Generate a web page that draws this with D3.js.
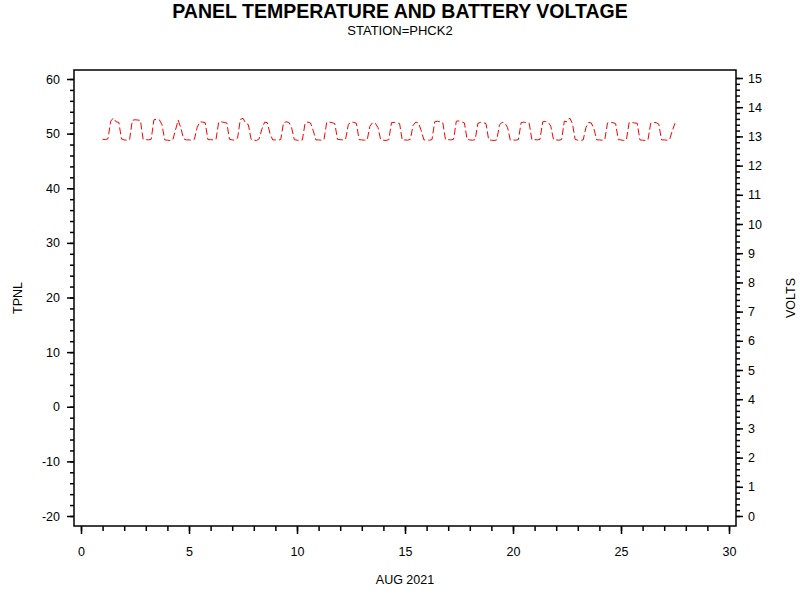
<!DOCTYPE html>
<html lang="en">
<head>
    <meta charset="UTF-8">
    <title>Panel Temperature and Battery Voltage</title>
    <script src="https://cdnjs.cloudflare.com/ajax/libs/d3/7.8.5/d3.min.js"></script>
    <style>
        body { margin: 0; background: #fff; }
        svg text { font-family: "Liberation Sans", Arial, sans-serif; fill: #000; }
    </style>
</head>
<body>
<svg width="800" height="600"></svg>
<script>
    // battery voltage, 3-hourly samples starting AUG 1 00:00
    const startDay = 1;
    const stepHours = 3;
    const volts = [
        12.90, 12.89, 12.92, 13.52, 13.63, 13.50, 13.48, 12.91,
        12.88, 12.87, 12.89, 13.55, 13.57, 13.56, 13.55, 12.90,
        12.89, 12.88, 12.90, 13.57, 13.58, 13.57, 13.40, 12.88,
        12.87, 12.86, 12.88, 13.22, 13.56, 13.28, 12.92, 12.88,
        12.88, 12.87, 12.90, 13.30, 13.50, 13.49, 13.47, 12.89,
        12.89, 12.88, 12.90, 13.49, 13.50, 13.48, 13.46, 12.90,
        12.88, 12.87, 12.94, 13.58, 13.62, 13.45, 13.40, 12.90,
        12.87, 12.86, 12.92, 13.25, 13.49, 13.47, 13.10, 12.88,
        12.88, 12.86, 12.90, 13.47, 13.50, 13.48, 13.30, 12.89,
        12.87, 12.86, 12.88, 13.46, 13.49, 13.46, 13.20, 12.88,
        12.88, 12.87, 12.89, 13.48, 13.49, 13.47, 13.44, 12.90,
        12.89, 12.88, 12.90, 13.40, 13.50, 13.48, 13.45, 12.89,
        12.88, 12.87, 12.88, 13.35, 13.47, 13.45, 13.30, 12.88,
        12.87, 12.86, 12.89, 13.47, 13.48, 13.46, 13.44, 12.87,
        12.88, 12.87, 12.90, 13.38, 13.49, 13.46, 13.20, 12.88,
        12.88, 12.87, 12.89, 13.50, 13.52, 13.50, 13.47, 12.89,
        12.89, 12.88, 12.90, 13.52, 13.53, 13.50, 13.46, 12.90,
        12.88, 12.87, 12.89, 13.45, 13.48, 13.47, 13.44, 12.88,
        12.87, 12.86, 12.88, 13.40, 13.48, 13.46, 13.30, 12.87,
        12.88, 12.87, 12.89, 13.47, 13.49, 13.47, 13.45, 12.88,
        12.89, 12.88, 12.90, 13.50, 13.51, 13.49, 13.35, 12.89,
        12.88, 12.87, 12.89, 13.52, 13.50, 13.63, 13.45, 12.90,
        12.87, 12.86, 12.88, 13.30, 13.48, 13.46, 13.25, 12.88,
        12.88, 12.87, 12.89, 13.46, 13.49, 13.47, 13.44, 12.89,
        12.88, 12.86, 12.88, 13.47, 13.48, 13.46, 13.45, 12.88,
        12.87, 12.86, 12.89, 13.45, 13.48, 13.47, 13.42, 12.88,
        12.88, 12.87, 12.89, 13.20, 13.45
    ];

    const dayTicks = [0, 5, 10, 15, 20, 25, 30];
    const tempTicks = [-20, -10, 0, 10, 20, 30, 40, 50, 60];
    const voltTicks = d3.range(0, 16);

    const svg = d3.select("svg");
    const plotLeft = 74, plotRight = 736, plotTop = 70, plotBottom = 526;

    const x = d3.scaleLinear().domain([0, 30]).range([81, 729]);
    const yTemp = d3.scaleLinear().domain([-20, 60]).range([516, 79]);
    const yVolt = d3.scaleLinear().domain([0, 15]).range([516, 78]);

    // plain hyphen for negatives, like the original
    const plain = d => String(d);

    // frame
    svg.append("rect")
        .attr("x", plotLeft).attr("y", plotTop)
        .attr("width", plotRight - plotLeft).attr("height", plotBottom - plotTop)
        .attr("fill", "none").attr("stroke", "#000").attr("stroke-width", 1.5);

    function styleAxis(g) {
        g.select(".domain").remove();
        g.selectAll("line").attr("stroke", "#000").attr("stroke-width", 1.5);
        g.selectAll("text").attr("font-size", 12.5).attr("font-family", "Liberation Sans, Arial, sans-serif");
    }

    // bottom axis
    svg.append("g").attr("transform", `translate(0,${plotBottom})`)
        .call(d3.axisBottom(x).tickValues(d3.range(0, 31)).tickSize(5).tickFormat(""))
        .call(styleAxis);
    svg.append("g").attr("transform", `translate(0,${plotBottom})`)
        .call(d3.axisBottom(x).tickValues(dayTicks).tickSize(8).tickPadding(13).tickFormat(plain))
        .call(styleAxis);

    // left axis
    svg.append("g").attr("transform", `translate(${plotLeft},0)`)
        .call(d3.axisLeft(yTemp).tickValues(d3.range(-20, 61, 2)).tickSize(4).tickFormat(""))
        .call(styleAxis);
    svg.append("g").attr("transform", `translate(${plotLeft},0)`)
        .call(d3.axisLeft(yTemp).tickValues(tempTicks).tickSize(7).tickPadding(7).tickFormat(plain))
        .call(styleAxis);

    // right axis
    svg.append("g").attr("transform", `translate(${plotRight},0)`)
        .call(d3.axisRight(yVolt).tickValues(d3.range(0, 76).map(i => i / 5)).tickSize(4).tickFormat(""))
        .call(styleAxis);
    svg.append("g").attr("transform", `translate(${plotRight},0)`)
        .call(d3.axisRight(yVolt).tickValues(voltTicks).tickSize(7).tickPadding(5).tickFormat(plain))
        .call(styleAxis);

    // voltage line
    const line = d3.line()
        .x((d, i) => x(startDay + i * stepHours / 24))
        .y(d => yVolt(d));

    svg.append("path")
        .datum(volts)
        .attr("d", line)
        .attr("fill", "none")
        .attr("stroke", "#ff0000")
        .attr("stroke-width", 1)
        .attr("stroke-dasharray", "7,3");

    // titles
    svg.append("text").attr("x", 400).attr("y", 18)
        .attr("text-anchor", "middle").attr("font-size", 19.5).attr("font-weight", "bold")
        .text("PANEL TEMPERATURE AND BATTERY VOLTAGE");
    svg.append("text").attr("x", 400).attr("y", 35)
        .attr("text-anchor", "middle").attr("font-size", 13)
        .text("STATION=PHCK2");
    svg.append("text").attr("x", 405).attr("y", 584)
        .attr("text-anchor", "middle").attr("font-size", 12.5)
        .text("AUG 2021");
    svg.append("text").attr("transform", "translate(22,298) rotate(-90)")
        .attr("text-anchor", "middle").attr("font-size", 12.5)
        .text("TPNL");
    svg.append("text").attr("transform", "translate(795,298) rotate(-90)")
        .attr("text-anchor", "middle").attr("font-size", 12.5)
        .text("VOLTS");
</script>
</body>
</html>
